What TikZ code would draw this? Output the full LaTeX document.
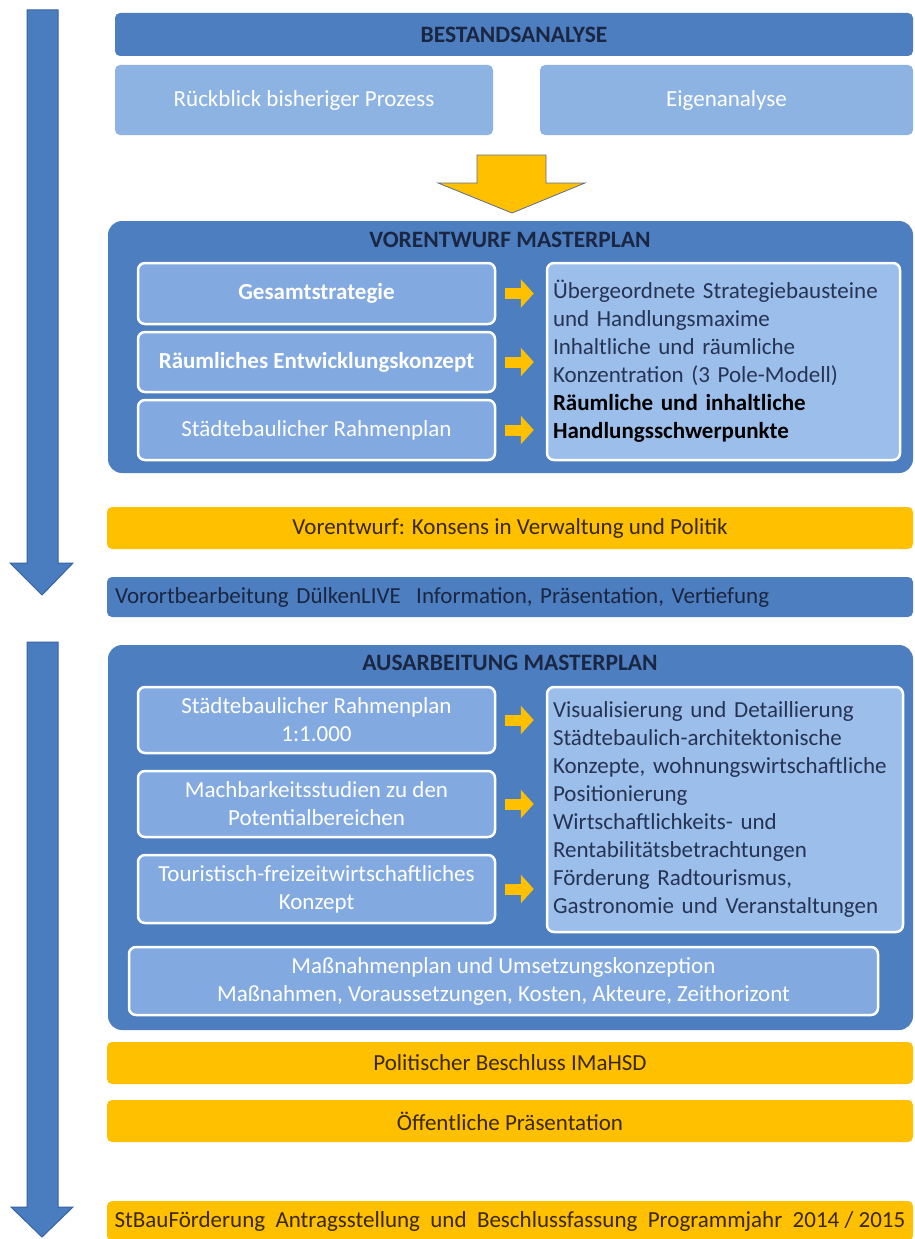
\documentclass[tikz,border=0pt]{standalone}
\usepackage{fontspec}
\setmainfont{Carlito}
\usetikzlibrary{arrows.meta}

\definecolor{barblue}{RGB}{76,126,192}
\definecolor{topblue}{RGB}{141,179,226}
\definecolor{innerblue}{RGB}{131,170,224}
\definecolor{zielblue}{RGB}{155,190,234}
\definecolor{timeblue}{RGB}{74,125,192}
\definecolor{timeedge}{RGB}{55,98,160}
\definecolor{gold}{RGB}{255,192,0}
\definecolor{goldedge}{RGB}{96,108,140}
\definecolor{navy}{RGB}{26,38,66}
\definecolor{zieltext}{RGB}{38,52,84}
\definecolor{goldtext}{RGB}{58,40,12}

\tikzset{
  txt/.style={font=\fontsize{23}{28}\selectfont},
  bar/.style={txt, rounded corners=5pt, minimum width=806pt, minimum height=42pt, inner sep=0pt},
  bluebar/.style={bar, fill=barblue, text=navy},
  goldbar/.style={bar, fill=gold, text=goldtext},
  topbox/.style={txt, rounded corners=5pt, fill=topblue, text=white, minimum height=70pt, inner sep=0pt},
  stage/.style={rounded corners=14pt, fill=barblue, minimum width=805pt, inner sep=0pt},
  stagetitle/.style={text=navy, font=\fontsize{23.5}{28}\selectfont\bfseries},
  innerbox/.style={txt, rounded corners=7pt, fill=innerblue, draw=white, line width=2.5pt,
    text=white, align=center, minimum width=357pt, inner sep=0pt},
  zielbox/.style={txt, rounded corners=7pt, fill=zielblue, draw=white, line width=2.5pt,
    text=zieltext, align=left, inner xsep=6pt, inner ysep=0pt},
  pfeil/.style={draw=gold, line width=11pt, -{Triangle[width=28pt,length=13pt]},
    shorten <=9pt, shorten >=12pt},
  timearrow/.style={fill=timeblue, draw=timeedge, line width=1pt},
}

\begin{document}
\begin{tikzpicture}[x=1pt, y=-1pt]
\useasboundingbox (0,0) rectangle (915,1239);

% time line arrows on the left
\draw[timearrow] (27,10) -- (58,10) -- (58,563) -- (73,563) -- (42,595) -- (10,563) -- (27,563) -- cycle;
\draw[timearrow] (27,642) -- (58,642) -- (58,1207) -- (73,1207) -- (42,1237) -- (11,1207) -- (27,1207) -- cycle;

% Bestandsanalyse
\node[bluebar, minimum width=798pt, minimum height=43pt, font=\fontsize{23.5}{28}\selectfont\bfseries] (bestand) at (514,34.5) {BESTANDSANALYSE};
\node[topbox, minimum width=378pt] (rueck) at (304,100) {Rückblick bisheriger Prozess};
\node[topbox, minimum width=373pt] (eigen) at (726.5,100) {Eigenanalyse};

% big yellow arrow
\draw[fill=gold, draw=goldedge, line width=0.8pt] (477,155) -- (546,155) -- (546,183) -- (585,183)
  -- (512,213) -- (438,183) -- (477,183) -- cycle;

% Vorentwurf Masterplan
\node[stage, minimum height=252pt] (vorentwurf) at (510.5,347) {};
\node[stagetitle] (vtitel) at (510,240) {VORENTWURF MASTERPLAN};
\node[innerbox, minimum height=61pt] (gesamt) at (316.5,293.5) {\textbf{Gesamtstrategie}};
\node[innerbox, minimum height=60pt] (raeuml) at (316.5,362) {\textbf{Räumliches Entwicklungskonzept}};
\node[innerbox, minimum height=60pt] (rahmen) at (316.5,430) {Städtebaulicher Rahmenplan};
\node[zielbox, text width=341pt, minimum height=197pt] (vziele) at (723.5,361.5)
  {Übergeordnete Strategiebausteine\\und Handlungsmaxime\\Inhaltliche und räumliche\\
   Konzentration (3 Pole-Modell)\\\textcolor{black}{\textbf{Räumliche und inhaltliche}}\\
   \textcolor{black}{\textbf{Handlungsschwerpunkte}}};
\draw[pfeil] (gesamt.east) -- (gesamt.east -| vziele.west);
\draw[pfeil] (raeuml.east) -- (raeuml.east -| vziele.west);
\draw[pfeil] (rahmen.east) -- (rahmen.east -| vziele.west);

\node[goldbar] (konsens) at (510,528) {Vorentwurf: Konsens in Verwaltung und Politik};
\node[bluebar, text width=790pt, inner xsep=8pt, align=left, minimum height=40pt] (vorort) at (510,597)
  {Vorortbearbeitung DülkenLIVE\ \ Information, Präsentation, Vertiefung};

% Ausarbeitung Masterplan
\node[stage, minimum height=385pt] (ausarb) at (510.5,837.5) {};
\node[stagetitle] (atitel) at (510,663) {AUSARBEITUNG MASTERPLAN};
\node[innerbox, minimum height=66pt] (plan) at (316.5,720) {Städtebaulicher Rahmenplan\\1:1.000};
\node[innerbox, minimum height=66pt] (machbar) at (316.5,804) {Machbarkeitsstudien zu den\\Potentialbereichen};
\node[innerbox, minimum height=68pt] (tourist) at (316.5,889) {Touristisch-freizeitwirtschaftliches\\Konzept};
\node[zielbox, text width=344pt, minimum height=245pt] (aziele) at (725,809.5)
  {Visualisierung und Detaillierung\\Städtebaulich-architektonische\\Konzepte, wohnungswirtschaftliche\\
   Positionierung\\Wirtschaftlichkeits- und\\Rentabilitätsbetrachtungen\\Förderung Radtourismus,\\
   Gastronomie und Veranstaltungen};
\draw[pfeil] (plan.east) -- (plan.east -| aziele.west);
\draw[pfeil] (machbar.east) -- (machbar.east -| aziele.west);
\draw[pfeil] (tourist.east) -- (tourist.east -| aziele.west);
\node[innerbox, minimum width=749pt, minimum height=68pt] (massn) at (503.5,981)
  {Maßnahmenplan und Umsetzungskonzeption\\Maßnahmen, Voraussetzungen,\ Kosten,\ Akteure,\ Zeithorizont};

% Beschluss und Antrag
\node[goldbar] (beschluss) at (510,1063) {Politischer Beschluss IMaHSD};
\node[goldbar] (praes) at (510,1121) {Öffentliche Präsentation};
\node[goldbar, minimum height=40pt] (foerder) at (510,1221)
  {StBauFörderung\ \ Antragsstellung\ \ und\ \ Beschlussfassung\ \ Programmjahr\ \ 2014 / 2015};
\end{tikzpicture}
\end{document}
